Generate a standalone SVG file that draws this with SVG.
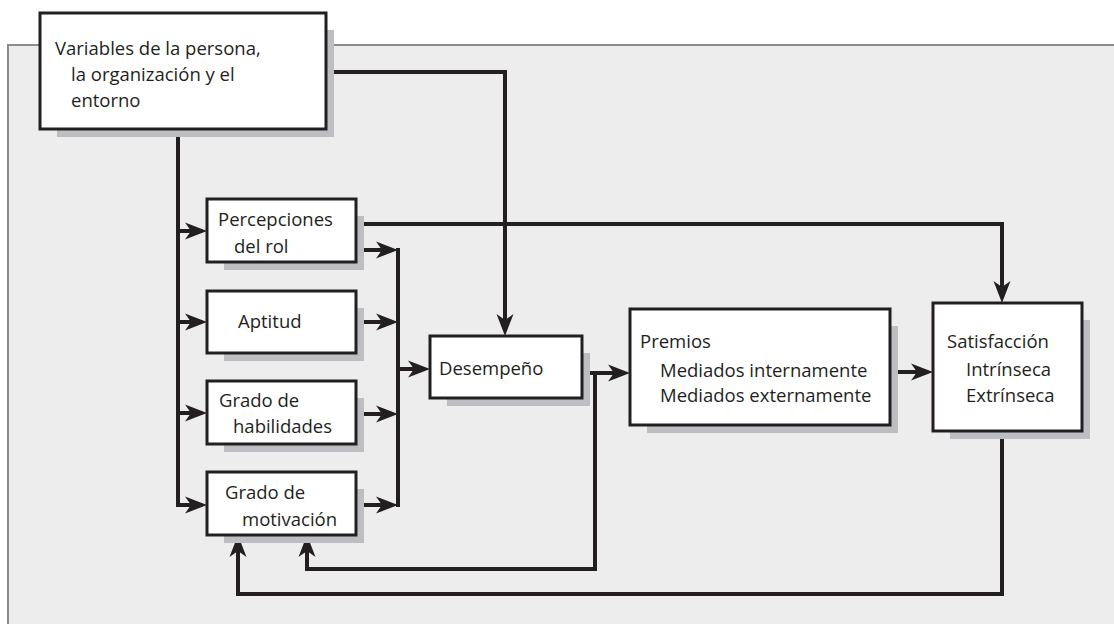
<svg xmlns="http://www.w3.org/2000/svg" width="1114" height="624" viewBox="0 0 1114 624">
<defs>
<style>
.panel{fill:#ededed;stroke:#8c8c8e;stroke-width:2}
.shadow{fill:#bdbec2}
.box{fill:#ffffff;stroke:#231f20;stroke-width:3}
.conn{fill:none;stroke:#231f20;stroke-width:4;stroke-linejoin:miter;stroke-linecap:butt}
.t{font-family:"Open Sans","Noto Sans","Liberation Sans",sans-serif;font-size:18.5px;fill:#231f20}
</style>
<marker id="arr" markerUnits="userSpaceOnUse" markerWidth="30" markerHeight="30" refX="0" refY="0" orient="auto" overflow="visible">
<path d="M10,0 L-12,-8.5 L-6,0 L-12,8.5 Z" fill="#231f20"/>
</marker>
</defs>
<rect x="0" y="0" width="1114" height="624" fill="#ffffff"/>
<rect class="panel" x="8" y="45" width="1120" height="600"/>

<g id="connectors">
<path class="conn" d="M178,129 V505 H197" marker-end="url(#arr)"/>
<path class="conn" d="M178,231 H197" marker-end="url(#arr)"/>
<path class="conn" d="M178,322 H197" marker-end="url(#arr)"/>
<path class="conn" d="M178,413 H197" marker-end="url(#arr)"/>
<path class="conn" d="M326,72 H505 V326" marker-end="url(#arr)"/>
<path class="conn" d="M356,224 H1002 V293" marker-end="url(#arr)"/>
<path class="conn" d="M356,250 H388" marker-end="url(#arr)"/>
<path class="conn" d="M356,322 H388" marker-end="url(#arr)"/>
<path class="conn" d="M356,414 H388" marker-end="url(#arr)"/>
<path class="conn" d="M356,505 H388" marker-end="url(#arr)"/>
<path class="conn" d="M398,248 V507"/>
<path class="conn" d="M398,369 H420" marker-end="url(#arr)"/>
<path class="conn" d="M582,373 H620" marker-end="url(#arr)"/>
<path class="conn" d="M595,373 V569 H307 V545" marker-end="url(#arr)"/>
<path class="conn" d="M890,372 H923" marker-end="url(#arr)"/>
<path class="conn" d="M1002,431 V594 H238 V545" marker-end="url(#arr)"/>
</g>

<g id="n-variables">
<rect class="shadow" x="57" y="30" width="277" height="107"/>
<rect class="box" x="40" y="13" width="286" height="116"/>
<text class="t" x="55" y="55">Variables de la persona,</text>
<text class="t" x="71" y="81">la organización y el</text>
<text class="t" x="71" y="107">entorno</text>
</g>

<g id="n-percepciones">
<rect class="shadow" x="224" y="216" width="140" height="54"/>
<rect class="box" x="207" y="199" width="149" height="63"/>
<text class="t" x="218" y="226">Percepciones</text>
<text class="t" x="234" y="253">del rol</text>
</g>

<g id="n-aptitud">
<rect class="shadow" x="224" y="308" width="140" height="53"/>
<rect class="box" x="207" y="291" width="149" height="62"/>
<text class="t" x="238" y="328">Aptitud</text>
</g>

<g id="n-habilidades">
<rect class="shadow" x="224" y="398" width="140" height="54"/>
<rect class="box" x="207" y="381" width="149" height="63"/>
<text class="t" x="219" y="407">Grado de</text>
<text class="t" x="233" y="433">habilidades</text>
</g>

<g id="n-motivacion">
<rect class="shadow" x="224" y="489" width="140" height="54"/>
<rect class="box" x="207" y="472" width="149" height="63"/>
<text class="t" x="225" y="499">Grado de</text>
<text class="t" x="242" y="526">motivación</text>
</g>

<g id="n-desempeno">
<rect class="shadow" x="447" y="353" width="143" height="53"/>
<rect class="box" x="430" y="336" width="152" height="62"/>
<text class="t" x="439" y="375">Desempeño</text>
</g>

<g id="n-premios">
<rect class="shadow" x="647" y="326" width="251" height="107"/>
<rect class="box" x="630" y="309" width="260" height="116"/>
<text class="t" x="640" y="348">Premios</text>
<text class="t" x="660" y="377">Mediados internamente</text>
<text class="t" x="660" y="402">Mediados externamente</text>
</g>

<g id="n-satisfaccion">
<rect class="shadow" x="950" y="320" width="140" height="119"/>
<rect class="box" x="933" y="303" width="149" height="128"/>
<text class="t" x="947" y="348">Satisfacción</text>
<text class="t" x="966" y="376">Intrínseca</text>
<text class="t" x="966" y="402">Extrínseca</text>
</g>
</svg>
